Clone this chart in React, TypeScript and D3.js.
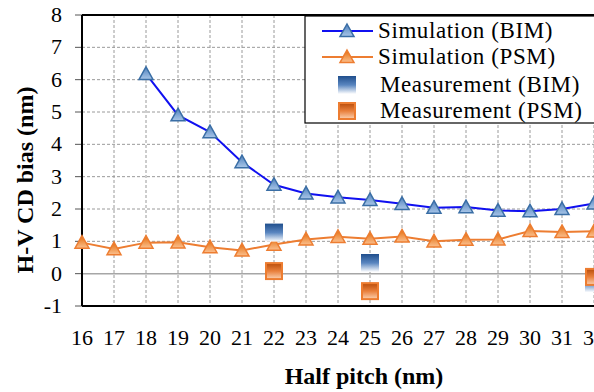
import React from "react";
import * as d3 from "d3";

// Half pitch (nm) categories
const pitches = [16, 17, 18, 19, 20, 21, 22, 23, 24, 25, 26, 27, 28, 29, 30, 31, 32];

// Simulation series (nm); BIM starts at 18
const simBIM: [number, number][] = [
  [18, 6.18], [19, 4.9], [20, 4.38], [21, 3.45], [22, 2.75], [23, 2.48], [24, 2.36],
  [25, 2.28], [26, 2.16], [27, 2.04], [28, 2.06], [29, 1.95], [30, 1.93], [31, 2.0], [32, 2.17],
];
const simPSM = [0.96, 0.76, 0.96, 0.97, 0.82, 0.72, 0.9, 1.06, 1.14, 1.08, 1.15, 1.0, 1.05, 1.06, 1.32, 1.29, 1.31];

// Measurements (nm)
const measBIM: [number, number][] = [[22, 1.27], [25, 0.33], [32, -0.3]];
const measPSM: [number, number][] = [[22, 0.08], [25, -0.54], [32, -0.1]];

const yTicks = [-1, 0, 1, 2, 3, 4, 5, 6, 7, 8];
const legendLabels = ["Simulation (BIM)", "Simulation (PSM)", "Measurement (BIM)", "Measurement (PSM)"];

const W = 594;
const H = 392;
const FONT = "'Liberation Serif', 'Times New Roman', serif";

export default function App() {
  const x = d3.scaleLinear().domain([16, 32]).range([82, 594]);
  const y = d3.scaleLinear().domain([-1, 8]).range([306, 15]);

  const line = d3
    .line<[number, number]>()
    .x((d) => x(d[0]))
    .y((d) => y(d[1]));

  const psmPts: [number, number][] = pitches.map((p, i) => [p, simPSM[i]]);

  const tri = (cx: number, cy: number, s = 7) =>
    `M${cx},${cy - s} L${cx + s},${cy + s * 0.8} L${cx - s},${cy + s * 0.8} Z`;

  const sq = 9;
  const legY = [31, 57, 85, 111];

  return (
    <svg width={W} height={H} style={{position: "absolute", left: 0, top: 0, background: "#fff"}} fontFamily={FONT}>
      <defs>
        <linearGradient id="gBlueTri" x1="0" y1="0" x2="0" y2="1">
          <stop offset="0" stopColor="#4f81bd" />
          <stop offset="1" stopColor="#a9c6e8" />
        </linearGradient>
        <linearGradient id="gOrangeTri" x1="0" y1="0" x2="0" y2="1">
          <stop offset="0" stopColor="#e46c0a" />
          <stop offset="1" stopColor="#fbc08f" />
        </linearGradient>
        <linearGradient id="gBlueSq" x1="0" y1="0" x2="0" y2="1">
          <stop offset="0" stopColor="#1f4e8c" />
          <stop offset="0.5" stopColor="#5a86c0" />
          <stop offset="1" stopColor="#ffffff" />
        </linearGradient>
        <linearGradient id="gOrangeSq" x1="0" y1="0" x2="0" y2="1">
          <stop offset="0" stopColor="#b84c0a" />
          <stop offset="0.5" stopColor="#e9803c" />
          <stop offset="1" stopColor="#fbd1b1" />
        </linearGradient>
      </defs>

      {/* grid */}
      {yTicks
        .filter((t) => t > -1 && t < 8)
        .map((t) => (
          <line
            key={"gy" + t}
            x1={x(16)}
            x2={W}
            y1={y(t)}
            y2={y(t)}
            stroke={t === 0 ? "#a6a6a6" : "#9a9a9a"}
            strokeWidth={t === 0 ? 1.5 : 1}
            strokeDasharray={t === 0 ? undefined : "3,2"}
          />
        ))}
      {pitches
        .filter((p) => p > 16)
        .map((p) => (
          <line key={"gx" + p} x1={x(p)} x2={x(p)} y1={y(8)} y2={y(-1)} stroke="#9a9a9a" strokeDasharray="3,2" />
        ))}

      {/* y ticks */}
      {yTicks.map((t) => (
        <g key={"yt" + t}>
          <line x1={x(16) - 7} x2={x(16)} y1={y(t)} y2={y(t)} stroke="#555" />
          <text x={62} y={y(t) + 7} textAnchor="end" fontSize={22}>
            {t}
          </text>
        </g>
      ))}

      {/* frame */}
      <line x1={x(16)} x2={W} y1={y(8)} y2={y(8)} stroke="#000" strokeWidth={2} />
      <line x1={x(16)} x2={W} y1={y(-1)} y2={y(-1)} stroke="#000" strokeWidth={2} />
      <line x1={x(16)} x2={x(16)} y1={y(8)} y2={y(-1)} stroke="#000" strokeWidth={2} />

      {/* x tick labels */}
      {pitches.map((p) => (
        <text key={"xt" + p} x={x(p)} y={345} textAnchor="middle" fontSize={22}>
          {p}
        </text>
      ))}

      {/* simulation lines */}
      <path d={line(simBIM) || ""} fill="none" stroke="#1010f0" strokeWidth={2} />
      <path d={line(psmPts) || ""} fill="none" stroke="#ed7d31" strokeWidth={2} />
      {simBIM.map((d) => (
        <path key={"tb" + d[0]} d={tri(x(d[0]), y(d[1]))} fill="url(#gBlueTri)" stroke="#3a6ea5" strokeWidth={1.5} />
      ))}
      {psmPts.map((d) => (
        <path key={"tp" + d[0]} d={tri(x(d[0]), y(d[1]))} fill="url(#gOrangeTri)" stroke="#ed7d31" strokeWidth={1.5} />
      ))}

      {/* measurements */}
      {measBIM.map((d) => (
        <rect key={"mb" + d[0]} x={x(d[0]) - sq} y={y(d[1]) - sq} width={sq * 2} height={sq * 2} fill="url(#gBlueSq)" />
      ))}
      {measPSM.map((d) => (
        <rect
          key={"mp" + d[0]}
          x={x(d[0]) - sq + 1}
          y={y(d[1]) - sq + 1}
          width={sq * 2 - 2}
          height={sq * 2 - 2}
          fill="url(#gOrangeSq)"
          stroke="#ed7d31"
          strokeWidth={2}
        />
      ))}

      {/* legend */}
      <rect x={305} y={16} width={300} height={107} fill="#fff" stroke="#000" strokeWidth={1.2} />
      <line x1={322} x2={373} y1={legY[0]} y2={legY[0]} stroke="#1010f0" strokeWidth={2} />
      <path d={tri(347, legY[0])} fill="url(#gBlueTri)" stroke="#3a6ea5" strokeWidth={1.5} />
      <line x1={322} x2={373} y1={legY[1]} y2={legY[1]} stroke="#ed7d31" strokeWidth={2} />
      <path d={tri(347, legY[1])} fill="url(#gOrangeTri)" stroke="#ed7d31" strokeWidth={1.5} />
      <rect x={347 - sq} y={legY[2] - sq} width={sq * 2} height={sq * 2} fill="url(#gBlueSq)" />
      <rect x={347 - sq + 1} y={legY[3] - sq + 1} width={sq * 2 - 2} height={sq * 2 - 2} fill="url(#gOrangeSq)" stroke="#ed7d31" strokeWidth={2} />
      {legendLabels.map((t, i) => (
        <text key={t} x={i < 2 ? 378 : 380} y={legY[i] + 7} fontSize={23} letterSpacing={0.6}>
          {t}
        </text>
      ))}

      {/* axis titles */}
      <text x={364} y={384} textAnchor="middle" fontSize={24} fontWeight="bold">
        Half pitch (nm)
      </text>
      <text transform="translate(33,180) rotate(-90)" textAnchor="middle" fontSize={24} fontWeight="bold">
        H-V CD bias (nm)
      </text>
    </svg>
  );
}
